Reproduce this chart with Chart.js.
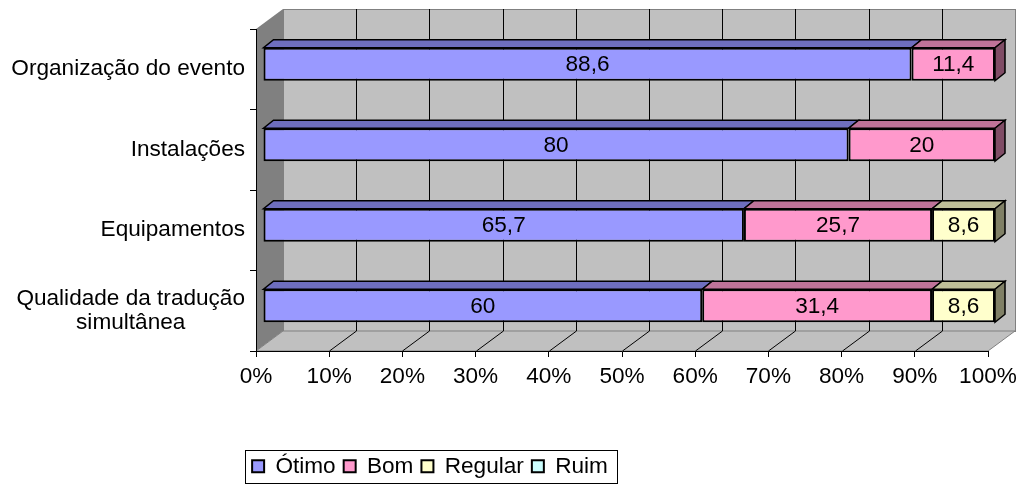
<!DOCTYPE html>
<html>
<head>
<meta charset="utf-8">
<script src="https://cdn.jsdelivr.net/npm/chart.js@4/dist/chart.umd.min.js"></script>
<style>
  html, body { margin: 0; padding: 0; background: #ffffff; }
  #wrap { width: 1024px; height: 486px; }
</style>
</head>
<body>
<div id="wrap"><canvas id="c" width="1024" height="486"></canvas></div>
<script>
// Survey results, percent of answers per item
const categories = [
  'Organização do evento',
  'Instalações',
  'Equipamentos',
  ['Qualidade da tradução', 'simultânea']
];
const seriesNames = ['Ótimo', 'Bom', 'Regular', 'Ruim'];
const otimo   = [88.6, 80, 65.7, 60];
const bom     = [11.4, 20, 25.7, 31.4];
const regular = [0, 0, 8.6, 8.6];
const ruim    = [0, 0, 0, 0];
const tickValues = [0, 10, 20, 30, 40, 50, 60, 70, 80, 90, 100];

// Face colours: front, top, side
const palette = [
  { front: '#9999FF', top: '#6E6EBE', side: '#4D4D80' },
  { front: '#FF99CC', top: '#BF7399', side: '#804D66' },
  { front: '#FFFFCC', top: '#BFBF99', side: '#808066' },
  { front: '#CCFFFF', top: '#99BFBF', side: '#668080' }
];

const FONT = '"Liberation Sans", Arial, sans-serif';
const FSIZE = 22.6;
const WALL_DX = 27, WALL_DY = -20;   // depth of the plot box
const BAR_OX = 7, BAR_OY = -5;       // bars sit a little behind the front plane
const BAR_DX = 10, BAR_DY = -8;      // depth of each bar

const fmt = v => String(v).replace('.', ',');

// Back wall, side wall, floor and their grid lines
const wallsPlugin = {
  id: 'walls',
  beforeDraw(chart) {
    const { ctx, chartArea: a, scales } = chart;
    const xs = scales.x;
    ctx.save();
    // back wall
    ctx.fillStyle = '#C0C0C0';
    ctx.fillRect(a.left + WALL_DX, a.top + WALL_DY, a.right - a.left, a.bottom - a.top);
    ctx.strokeStyle = '#808080';
    ctx.lineWidth = 1;
    ctx.strokeRect(a.left + WALL_DX + 0.5, a.top + WALL_DY + 0.5, a.right - a.left, a.bottom - a.top);
    // left wall
    ctx.fillStyle = '#808080';
    ctx.beginPath();
    ctx.moveTo(a.left, a.top);
    ctx.lineTo(a.left + WALL_DX, a.top + WALL_DY);
    ctx.lineTo(a.left + WALL_DX, a.bottom + WALL_DY);
    ctx.lineTo(a.left, a.bottom);
    ctx.closePath();
    ctx.fill();
    // floor
    ctx.fillStyle = '#C0C0C0';
    ctx.beginPath();
    ctx.moveTo(a.left, a.bottom);
    ctx.lineTo(a.right, a.bottom);
    ctx.lineTo(a.right + WALL_DX, a.bottom + WALL_DY);
    ctx.lineTo(a.left + WALL_DX, a.bottom + WALL_DY);
    ctx.closePath();
    ctx.fill();
    ctx.strokeStyle = '#808080';
    ctx.stroke();
    // grid lines on back wall and floor
    ctx.strokeStyle = '#000000';
    ctx.lineWidth = 1;
    tickValues.forEach(v => {
      if (v === 0 || v === 100) return;
      const x = Math.round(xs.getPixelForValue(v)) + 0.5;
      ctx.beginPath();
      ctx.moveTo(x + WALL_DX, a.top + WALL_DY);
      ctx.lineTo(x + WALL_DX, a.bottom + WALL_DY);
      ctx.stroke();
      ctx.beginPath();
      ctx.moveTo(x, a.bottom);
      ctx.lineTo(x + WALL_DX, a.bottom + WALL_DY);
      ctx.stroke();
    });
    ctx.restore();
  }
};

// Pushes bars into the box and adds their top / side faces and value labels
const barsPlugin = {
  id: 'bars3d',
  beforeDatasetsDraw(chart) {
    chart.ctx.save();
    chart.ctx.translate(BAR_OX, BAR_OY);
  },
  afterDatasetsDraw(chart) {
    const ctx = chart.ctx;
    const n = chart.data.labels.length;
    for (let i = 0; i < n; i++) {
      let last = null;
      chart.data.datasets.forEach((ds, d) => {
        const el = chart.getDatasetMeta(d).data[i];
        const p = el.getProps(['x', 'y', 'base', 'height'], true);
        const l = Math.min(p.x, p.base), r = Math.max(p.x, p.base);
        if (r - l < 0.5) return;
        const t = p.y - p.height / 2;
        ctx.beginPath();
        ctx.moveTo(l, t);
        ctx.lineTo(r, t);
        ctx.lineTo(r + BAR_DX, t + BAR_DY);
        ctx.lineTo(l + BAR_DX, t + BAR_DY);
        ctx.closePath();
        ctx.fillStyle = palette[d].top;
        ctx.fill();
        ctx.strokeStyle = '#000';
        ctx.lineWidth = 1.5;
        ctx.stroke();
        last = { r, t, b: p.y + p.height / 2, d };
      });
      if (last) {
        ctx.beginPath();
        ctx.moveTo(last.r, last.t);
        ctx.lineTo(last.r + BAR_DX, last.t + BAR_DY);
        ctx.lineTo(last.r + BAR_DX, last.b + BAR_DY);
        ctx.lineTo(last.r, last.b);
        ctx.closePath();
        ctx.fillStyle = palette[last.d].side;
        ctx.fill();
        ctx.strokeStyle = '#000';
        ctx.lineWidth = 1.5;
        ctx.stroke();
      }
    }
    // value labels
    ctx.fillStyle = '#000';
    ctx.font = FSIZE + 'px ' + FONT;
    ctx.textAlign = 'center';
    ctx.textBaseline = 'middle';
    chart.data.datasets.forEach((ds, d) => {
      chart.getDatasetMeta(d).data.forEach((el, i) => {
        const v = ds.data[i];
        if (!v) return;
        const p = el.getProps(['x', 'y', 'base'], true);
        ctx.fillText(fmt(v), (p.x + p.base) / 2, p.y + 1);
      });
    });
    ctx.restore();
  },
  afterLayout(chart) {
    // legend sits in a framed box under the plot
    const lg = chart.legend;
    if (lg) {
      lg.left = 242; lg.right = 618;
      lg.width = lg.right - lg.left;
      lg.top = 447; lg.bottom = 486;
    }
  },
  afterDraw(chart) {
    const { ctx, scales } = chart;
    const ys = scales.y;
    ctx.save();
    // category labels
    ctx.fillStyle = '#000';
    ctx.font = FSIZE + 'px ' + FONT;
    ctx.textBaseline = 'middle';
    const xr = 245, lh = 24;
    categories.forEach((lab, i) => {
      const y = ys.getPixelForValue(i);
      const lines = Array.isArray(lab) ? lab : [lab];
      if (lines.length === 1) {
        ctx.textAlign = 'right';
        ctx.fillText(lines[0], xr, y);
      } else {
        const w = Math.max(...lines.map(s => ctx.measureText(s).width));
        ctx.textAlign = 'center';
        lines.forEach((s, j) => ctx.fillText(s, xr - w / 2, y + (j - (lines.length - 1) / 2) * lh));
      }
    });
    // legend frame
    ctx.strokeStyle = '#000';
    ctx.lineWidth = 1;
    ctx.strokeRect(245.5, 450.5, 372, 33);
    ctx.restore();
  }
};

const seriesData = [otimo, bom, regular, ruim];

new Chart(document.getElementById('c'), {
  type: 'bar',
  data: {
    labels: categories,
    datasets: seriesNames.map((name, d) => ({
      label: name,
      data: seriesData[d],
      backgroundColor: palette[d].front,
      borderColor: '#000000',
      borderWidth: 2,
      borderSkipped: false,
      barPercentage: 0.41,
      categoryPercentage: 1,
      clip: false
    }))
  },
  options: {
    indexAxis: 'y',
    responsive: false,
    animation: false,
    devicePixelRatio: 1,
    layout: { padding: { top: 29, left: 0, right: 36, bottom: 0 } },
    scales: {
      x: {
        stacked: true,
        min: 0,
        max: 100,
        afterBuildTicks(s) { s.ticks = tickValues.map(v => ({ value: v })); },
        afterFit(s) {
          const lh = s.chart.legend ? s.chart.legend.height : 0;
          s.height = 486 - 351 - lh;
        },
        grid: { drawOnChartArea: false, drawTicks: true, tickLength: 6, color: '#000' },
        border: { display: true, color: '#000', width: 1 },
        ticks: {
          color: '#000',
          padding: 6,
          maxRotation: 0,
          font: { family: FONT, size: FSIZE },
          callback: v => v + '%'
        }
      },
      y: {
        stacked: true,
        afterFit(s) { s.width = 256; },
        grid: { drawOnChartArea: false, drawTicks: true, tickLength: 6, color: '#000', offset: true },
        border: { display: true, color: '#000', width: 1 },
        ticks: { display: false }
      }
    },
    plugins: {
      tooltip: { enabled: false },
      legend: {
        position: 'bottom',
        align: 'center',
        labels: {
          color: '#000',
          boxWidth: 12,
          boxHeight: 12,
          padding: 8,
          font: { family: FONT, size: FSIZE }
        }
      }
    }
  },
  plugins: [wallsPlugin, barsPlugin]
});
</script>
</body>
</html>
